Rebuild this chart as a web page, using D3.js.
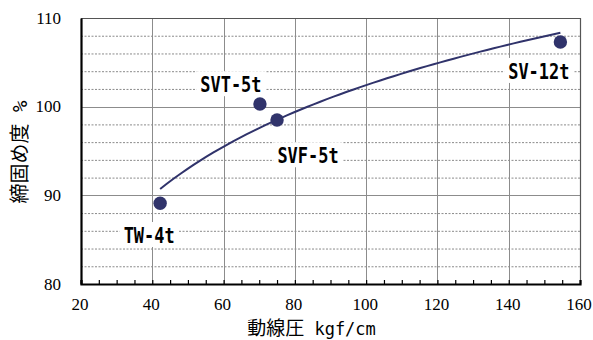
<!DOCTYPE html>
<html><head><meta charset="utf-8">
<script src="https://cdn.jsdelivr.net/npm/d3@7"></script>
<style>
html,body{margin:0;padding:0;background:#fff;}
svg{display:block;}
</style></head>
<body>
<svg id="c" width="593" height="340"></svg>
<script>
// ---- data ----
const names = ["TW-4t", "SVT-5t", "SVF-5t", "SV-12t"];
const pressure = [42.2, 70.2, 75.0, 154.5];      // 動線圧 kgf/cm
const compaction = [89.1, 100.3, 98.5, 107.3];   // 締固め度 %
const xTicks = [20, 40, 60, 80, 100, 120, 140, 160];
const yTicks = [80, 90, 100, 110];
const xTitle = ["動線圧", "kgf/cm"];
const yTitle = ["締固め度", "%"];

// ---- layout (label placement relative to its point, px) ----
const labelOffsets = [[-11, 31.7], [-29, -19.8], [31, 35.3], [-21.6, 29]];

const W = 593, H = 340;
const m = {l: 81, r: 13, t: 18, b: 56};
const svg = d3.select("#c");
const x = d3.scaleLinear().domain([20, 160]).range([m.l, W - m.r]);
const y = d3.scaleLinear().domain([80, 110]).range([H - m.b, m.t]);
const navy = "#30336b";
const serif = "'Liberation Serif','Times New Roman','DejaVu Serif',serif";

const g = svg.append("g");

// minor dashed horizontal grid
const minorY = d3.range(82, 110, 2).filter(v => v % 10 !== 0);
g.selectAll("line.my").data(minorY).join("line")
  .attr("x1", x(20)).attr("x2", x(160))
  .attr("y1", d => y(d) + 0.5).attr("y2", d => y(d) + 0.5)
  .attr("stroke", "#8a8a8a").attr("stroke-width", 1).attr("stroke-dasharray", "2,1.5");

// major grid
g.selectAll("line.gx").data(xTicks.filter(v => v > 20 && v < 160)).join("line")
  .attr("x1", d => Math.round(x(d)) + 0.5).attr("x2", d => Math.round(x(d)) + 0.5)
  .attr("y1", y(110)).attr("y2", y(80))
  .attr("stroke", "#8c8c8c").attr("stroke-width", 1);
g.selectAll("line.gy").data(yTicks.filter(v => v > 80 && v < 110)).join("line")
  .attr("x1", x(20)).attr("x2", x(160))
  .attr("y1", d => Math.round(y(d)) + 0.5).attr("y2", d => Math.round(y(d)) + 0.5)
  .attr("stroke", "#8c8c8c").attr("stroke-width", 1);

// top/right frame
g.append("path")
  .attr("d", `M${x(20)},${y(110)+0.5}H${x(160)+0.5}V${y(80)}`)
  .attr("fill", "none").attr("stroke", "#555").attr("stroke-width", 1.2);

// x axis with minor inward ticks
const xAxis = d3.axisBottom(x).tickValues(d3.range(20, 161, 5)).tickSize(-4).tickFormat("");
const xa = svg.append("g").attr("transform", `translate(0,${y(80)})`).call(xAxis);
xa.select(".domain").attr("stroke", "#000").attr("stroke-width", 2.2);
xa.selectAll(".tick line").attr("stroke", "#000").attr("stroke-width", 1.2);

// x tick labels
svg.append("g").selectAll("text").data(xTicks).join("text")
  .attr("x", d => x(d) - 1).attr("y", 309.5)
  .attr("text-anchor", "middle")
  .attr("font-family", serif)
  .attr("font-size", 17).attr("fill", "#000")
  .text(d => d);

// y axis
const yAxis = d3.axisLeft(y).tickValues(yTicks).tickSize(0).tickFormat("");
const ya = svg.append("g").attr("transform", `translate(${x(20)},0)`).call(yAxis);
ya.select(".domain").attr("stroke", "#000").attr("stroke-width", 2.2);

svg.append("g").selectAll("text").data(yTicks).join("text")
  .attr("x", 61).attr("y", d => y(d) + 5.8)
  .attr("text-anchor", "end")
  .attr("font-family", serif)
  .attr("font-size", 17).attr("fill", "#000")
  .text(d => d);

// logarithmic trendline (least squares fit y = a + b ln x)
const lx = pressure.map(Math.log);
const mx = d3.mean(lx), my = d3.mean(compaction);
const b = d3.sum(lx, (v, i) => (v - mx) * (compaction[i] - my)) / d3.sum(lx, v => (v - mx) ** 2);
const a = my - b * mx;
const xmin = d3.min(pressure), xmax = d3.max(pressure);
const trend = d3.range(0, 61).map(i => {
  const xv = xmin + (xmax - xmin) * i / 60;
  return [xv, a + b * Math.log(xv)];
});
svg.append("path").datum(trend)
  .attr("d", d3.line().x(d => x(d[0])).y(d => y(d[1])))
  .attr("fill", "none").attr("stroke", navy).attr("stroke-width", 2);

// points
svg.append("g").selectAll("circle").data(names).join("circle")
  .attr("cx", (d, i) => x(pressure[i])).attr("cy", (d, i) => y(compaction[i]))
  .attr("r", 6.7).attr("fill", navy);

// labels with white boxes
const charW = 10.2, capH = 16;
const lg = svg.append("g");
names.forEach((n, i) => {
  const cx = x(pressure[i]) + labelOffsets[i][0];
  const cy = y(compaction[i]) + labelOffsets[i][1];
  const w = n.length * charW;
  lg.append("rect")
    .attr("x", cx - w / 2 - 4).attr("y", cy - capH / 2 - 5)
    .attr("width", w + 8).attr("height", capH + 9)
    .attr("fill", "#fff");
  lg.append("text")
    .attr("x", cx - w / 2).attr("y", cy + capH / 2)
    .attr("font-family", "'DejaVu Sans Mono',monospace")
    .attr("font-weight", "bold").attr("font-size", 22)
    .attr("textLength", w).attr("lengthAdjust", "spacingAndGlyphs")
    .attr("fill", "#000")
    .text(n);
});

// axis titles
const xt = svg.append("text")
  .attr("x", 311.5).attr("y", 334.5).attr("text-anchor", "middle")
  .attr("font-family", "'Noto Sans CJK JP',sans-serif").attr("font-size", 19).attr("fill", "#000");
xt.append("tspan").text(xTitle[0]);
xt.append("tspan").attr("font-family", "'DejaVu Sans Mono',monospace").attr("font-size", 17)
  .text("\u00a0" + xTitle[1]);

const yt = svg.append("text")
  .attr("transform", "translate(19.5,152) rotate(-90)")
  .attr("x", 0).attr("y", 7.5).attr("text-anchor", "middle")
  .attr("font-family", "'Noto Sans CJK JP',sans-serif").attr("font-size", 20).attr("fill", "#000");
yt.append("tspan").text(yTitle[0]);
yt.append("tspan").attr("font-family", "'DejaVu Sans Mono',monospace").attr("font-size", 19)
  .text("\u00a0" + yTitle[1]);
</script>
</body></html>
